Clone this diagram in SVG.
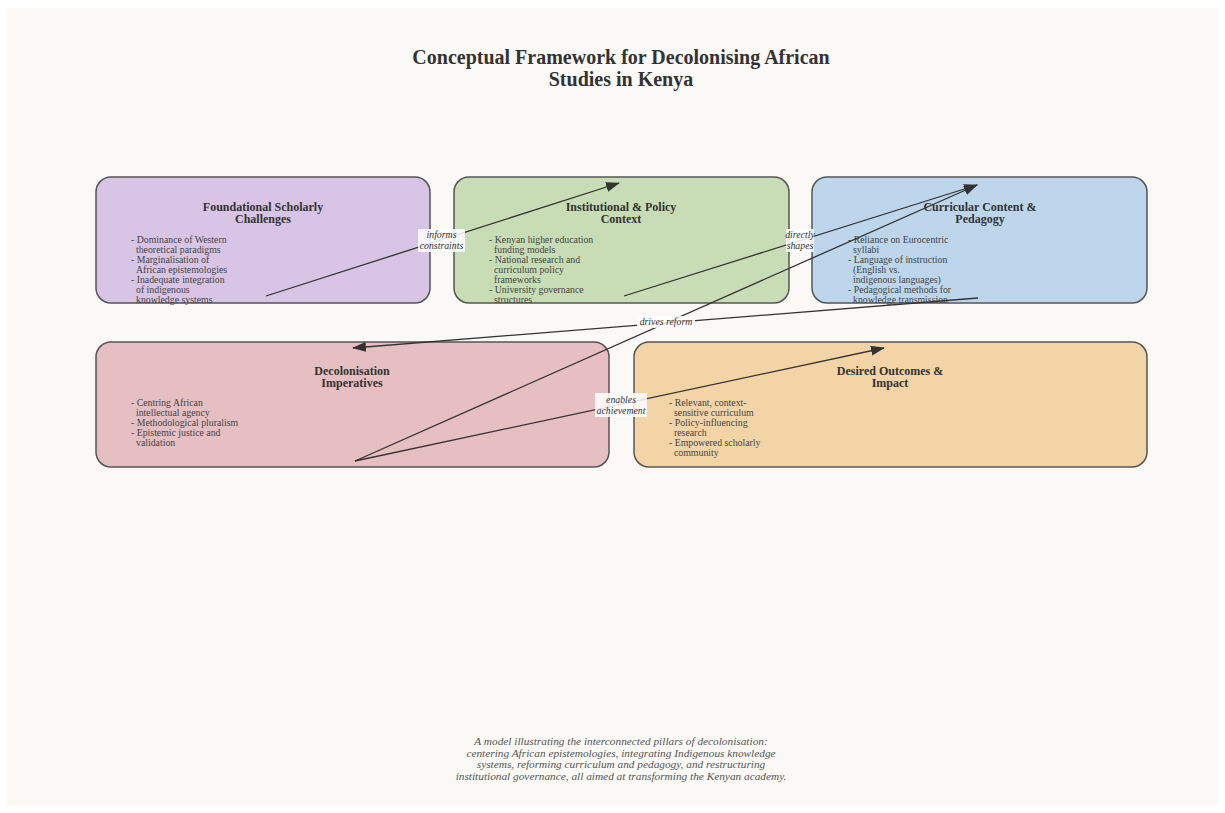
<svg xmlns="http://www.w3.org/2000/svg" width="1225" height="813" viewBox="0 0 1225 813">
<defs>
<style>
.title{font-family:"Liberation Serif","Times New Roman",serif;font-weight:bold;font-size:20px;fill:#333;text-anchor:middle}
.box{stroke:#555;stroke-width:1.5}
.ntitle{font-family:"Liberation Serif","Times New Roman",serif;font-weight:bold;font-size:12px;fill:#333;text-anchor:middle}
.bul{font-family:"Liberation Serif","Times New Roman",serif;font-size:9.8px;fill:#444}
.edge{stroke:#333;stroke-width:1.3;fill:none;marker-end:url(#arr)}
.lbg{fill:#fff;fill-opacity:0.85}
.lbl{font-family:"Liberation Serif","Times New Roman",serif;font-style:italic;font-size:9.8px;fill:#333;text-anchor:middle}
.cap{font-family:"Liberation Serif","Times New Roman",serif;font-style:italic;font-size:11.3px;fill:#555;text-anchor:middle}
</style>
<marker id="arr" markerUnits="userSpaceOnUse" markerWidth="14" markerHeight="10" refX="13" refY="5" orient="auto">
<path d="M0,0 L14,5 L0,10 Z" fill="#333"/>
</marker>
</defs>
<rect x="0" y="0" width="1225" height="813" fill="#ffffff"/>
<rect x="7" y="8" width="1211" height="798" fill="#faf9f6"/>
<g id="title">
<text class="title" x="621" y="64">Conceptual Framework for Decolonising African</text>
<text class="title" x="621" y="86">Studies in Kenya</text>
</g>
<g id="n-foundational">
<rect class="box" x="96" y="177" width="334" height="126" rx="15" fill="#d8c4e4"/>
<text class="ntitle" x="263" y="211">Foundational Scholarly</text>
<text class="ntitle" x="263" y="223">Challenges</text>
<text class="bul" x="131" y="243">- Dominance of Western</text>
<text class="bul" x="136" y="253">theoretical paradigms</text>
<text class="bul" x="131" y="263">- Marginalisation of</text>
<text class="bul" x="136" y="273">African epistemologies</text>
<text class="bul" x="131" y="283">- Inadequate integration</text>
<text class="bul" x="136" y="293">of indigenous</text>
<text class="bul" x="136" y="303">knowledge systems</text>
</g>
<g id="n-institutional">
<rect class="box" x="454" y="177" width="335" height="126" rx="15" fill="#c8ddb5"/>
<text class="ntitle" x="621" y="211">Institutional &amp; Policy</text>
<text class="ntitle" x="621" y="223">Context</text>
<text class="bul" x="489" y="243">- Kenyan higher education</text>
<text class="bul" x="494" y="253">funding models</text>
<text class="bul" x="489" y="263">- National research and</text>
<text class="bul" x="494" y="273">curriculum policy</text>
<text class="bul" x="494" y="283">frameworks</text>
<text class="bul" x="489" y="293">- University governance</text>
<text class="bul" x="494" y="303">structures</text>
</g>
<g id="n-curricular">
<rect class="box" x="812" y="177" width="335" height="126" rx="15" fill="#bdd6eb"/>
<text class="ntitle" x="980" y="211">Curricular Content &amp;</text>
<text class="ntitle" x="980" y="223">Pedagogy</text>
<text class="bul" x="848" y="243">- Reliance on Eurocentric</text>
<text class="bul" x="853" y="253">syllabi</text>
<text class="bul" x="848" y="263">- Language of instruction</text>
<text class="bul" x="853" y="273">(English vs.</text>
<text class="bul" x="853" y="283">indigenous languages)</text>
<text class="bul" x="848" y="293">- Pedagogical methods for</text>
<text class="bul" x="853" y="303">knowledge transmission</text>
</g>
<g id="n-decolonisation">
<rect class="box" x="96" y="342" width="513" height="125" rx="15" fill="#e5bfc1"/>
<text class="ntitle" x="352" y="375">Decolonisation</text>
<text class="ntitle" x="352" y="387">Imperatives</text>
<text class="bul" x="131" y="406">- Centring African</text>
<text class="bul" x="136" y="416">intellectual agency</text>
<text class="bul" x="131" y="426">- Methodological pluralism</text>
<text class="bul" x="131" y="436">- Epistemic justice and</text>
<text class="bul" x="136" y="446">validation</text>
</g>
<g id="n-outcomes">
<rect class="box" x="634" y="342" width="513" height="125" rx="15" fill="#f2d4a6"/>
<text class="ntitle" x="890" y="375">Desired Outcomes &amp;</text>
<text class="ntitle" x="890" y="387">Impact</text>
<text class="bul" x="669" y="406">- Relevant, context-</text>
<text class="bul" x="674" y="416">sensitive curriculum</text>
<text class="bul" x="669" y="426">- Policy-influencing</text>
<text class="bul" x="674" y="436">research</text>
<text class="bul" x="669" y="446">- Empowered scholarly</text>
<text class="bul" x="674" y="456">community</text>
</g>
<g id="connectors">
<line class="edge" x1="266" y1="296" x2="619" y2="183"/>
<line class="edge" x1="624" y1="296" x2="977" y2="185"/>
<line class="edge" x1="355" y1="461" x2="977" y2="185"/>
<line class="edge" x1="978" y1="298" x2="353" y2="348"/>
<line class="edge" x1="355" y1="461" x2="884" y2="348"/>
<rect class="lbg" x="418" y="229" width="47" height="23"/>
<text class="lbl" x="441.5" y="238">informs</text>
<text class="lbl" x="441.5" y="249">constraints</text>
<rect class="lbg" x="786" y="229" width="28" height="23"/>
<text class="lbl" x="800" y="238">directly</text>
<text class="lbl" x="800" y="249">shapes</text>
<rect class="lbg" x="637" y="316" width="58" height="12"/>
<text class="lbl" x="666" y="325">drives reform</text>
<rect class="lbg" x="595" y="393" width="52" height="24"/>
<text class="lbl" x="621" y="403">enables</text>
<text class="lbl" x="621" y="414">achievement</text>
</g>
<g id="caption">
<text class="cap" x="621" y="745">A model illustrating the interconnected pillars of decolonisation:</text>
<text class="cap" x="621" y="756.5">centering African epistemologies, integrating Indigenous knowledge</text>
<text class="cap" x="621" y="768">systems, reforming curriculum and pedagogy, and restructuring</text>
<text class="cap" x="621" y="779.5">institutional governance, all aimed at transforming the Kenyan academy.</text>
</g>
</svg>
